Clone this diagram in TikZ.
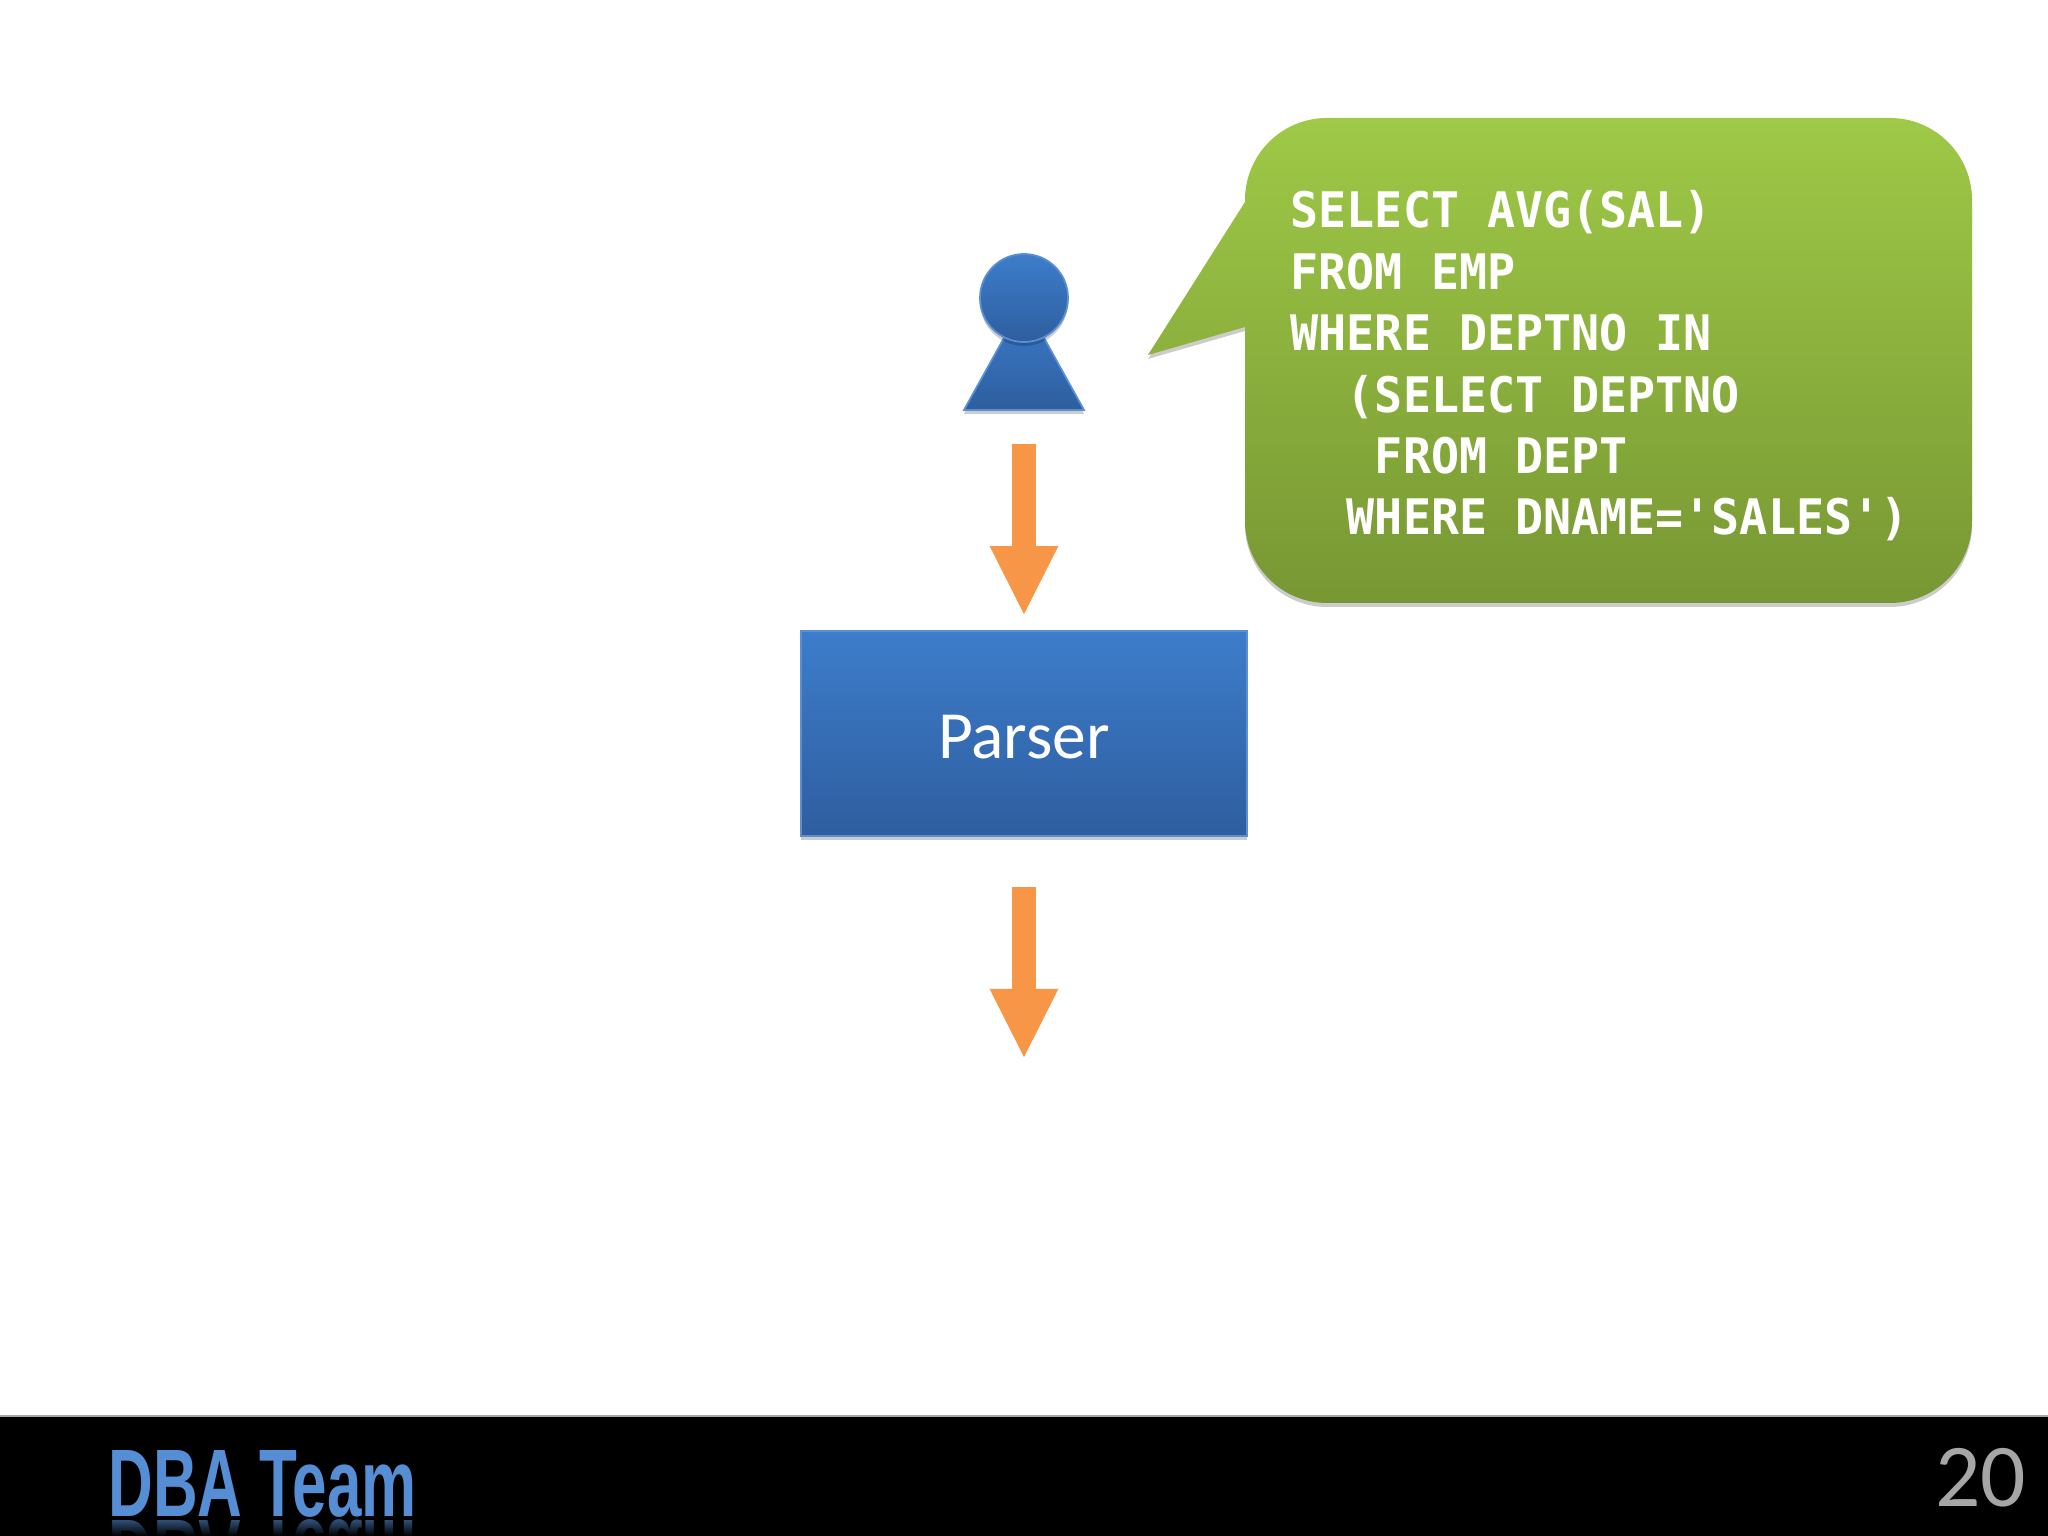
\documentclass[tikz,border=0pt]{standalone}
\usepackage{fontspec}
\setmainfont{Carlito}
\newfontfamily\sqlfont{DejaVu Sans Mono}[Scale=1]
\newfontfamily\teamfont{Liberation Sans}
\usetikzlibrary{arrows.meta,shadows,fadings}
\definecolor{boxtop}{HTML}{3D7DCB}
\definecolor{boxbot}{HTML}{2E5E9F}
\definecolor{bubtop}{HTML}{9FC947}
\definecolor{bubbot}{HTML}{779733}
\definecolor{flowcol}{HTML}{F79646}
\definecolor{teamcol}{HTML}{558ED5}
\tikzset{
	softshadow/.style={drop shadow={shadow xshift=0cm,shadow yshift=-0.04cm,opacity=0.2,fill=black}},
	bluefill/.style={top color=boxtop,bottom color=boxbot,draw=boxtop!85!white,line width=0.5pt},
	flow/.style={draw=flowcol,line width=0.24cm,-{Triangle[length=0.70cm,width=0.63cm]}},
}

\begin{document}
\begin{tikzpicture}
	\useasboundingbox (0,0) rectangle (20.48,15.36);
	\fill[white] (0,0) rectangle (20.48,15.36);
	% speech bubble
	\shade[top color=bubtop,bottom color=bubbot,softshadow] (13.27,14.18) -- (18.90,14.18) arc (90:0:0.82) -- (19.72,10.15) arc (0:-90:0.82) -- (13.27,9.33) arc (-90:-180:0.82) -- (12.45,12.09) -- (11.48,11.81) -- (12.45,13.34) -- (12.45,13.36) arc (180:90:0.82) -- cycle;
	\node[anchor=west,inner sep=0pt,align=left,text=white,yscale=1.05,transform shape,font=\sqlfont\bfseries\fontsize{13.27}{16.64}\selectfont] (sql) at (12.90,11.70) {SELECT AVG(SAL)\\FROM EMP\\WHERE DEPTNO IN\\\phantom{MM}(SELECT DEPTNO\\\phantom{MMM}FROM DEPT\\\phantom{MM}WHERE DNAME='SALES')};
	% the user
	\path[bluefill,softshadow] (10.24,12.34) -- (10.84,11.26) -- (9.64,11.26) -- cycle;
	\coordinate (userbase) at (10.24,11.26);
	\node[circle,minimum size=0.88cm,inner sep=0pt,bluefill,shading=axis,softshadow] (user) at (10.24,12.38) {};
	% parser box
	\node[rectangle,minimum width=4.46cm,minimum height=2.05cm,inner sep=0pt,bluefill,softshadow,text=white,font=\fontsize{19.2}{22}\selectfont] (parser) at (10.24,8.025) {\raisebox{0pt}[0.5cm][0cm]{Parser}};
	\coordinate (out) at (10.24,4.77);
	% arrows
	\draw[flow,shorten <=0.34cm,shorten >=0.14cm] (userbase) -- (parser.north);
	\draw[flow,shorten <=0.50cm] (parser.south) -- (out);
	% footer
	\fill[black] (0,0) rectangle (20.48,1.20);
	\draw[gray!70,line width=0.4pt] (0,1.20) -- (20.48,1.20);
	\node[anchor=base west,inner sep=0pt,xscale=0.645,transform shape,text=teamcol!70!black,yscale=-1,font=\teamfont\bfseries\fontsize{27.3}{30}\selectfont] (mirror) at (1.08,0.15) {DBA Team};
	\fill[black,path fading=north] (0,0) rectangle (6,0.2);
	\node[anchor=base west,inner sep=0pt,xscale=0.645,transform shape,text=teamcol,font=\teamfont\bfseries\fontsize{27.3}{30}\selectfont] (team) at (1.08,0.19) {DBA Team};
	\node[anchor=east,inner sep=0pt,text=gray!70,font=\fontsize{25.5}{28}\selectfont] (pagenum) at (20.27,0.58) {20};
\end{tikzpicture}
\end{document}
